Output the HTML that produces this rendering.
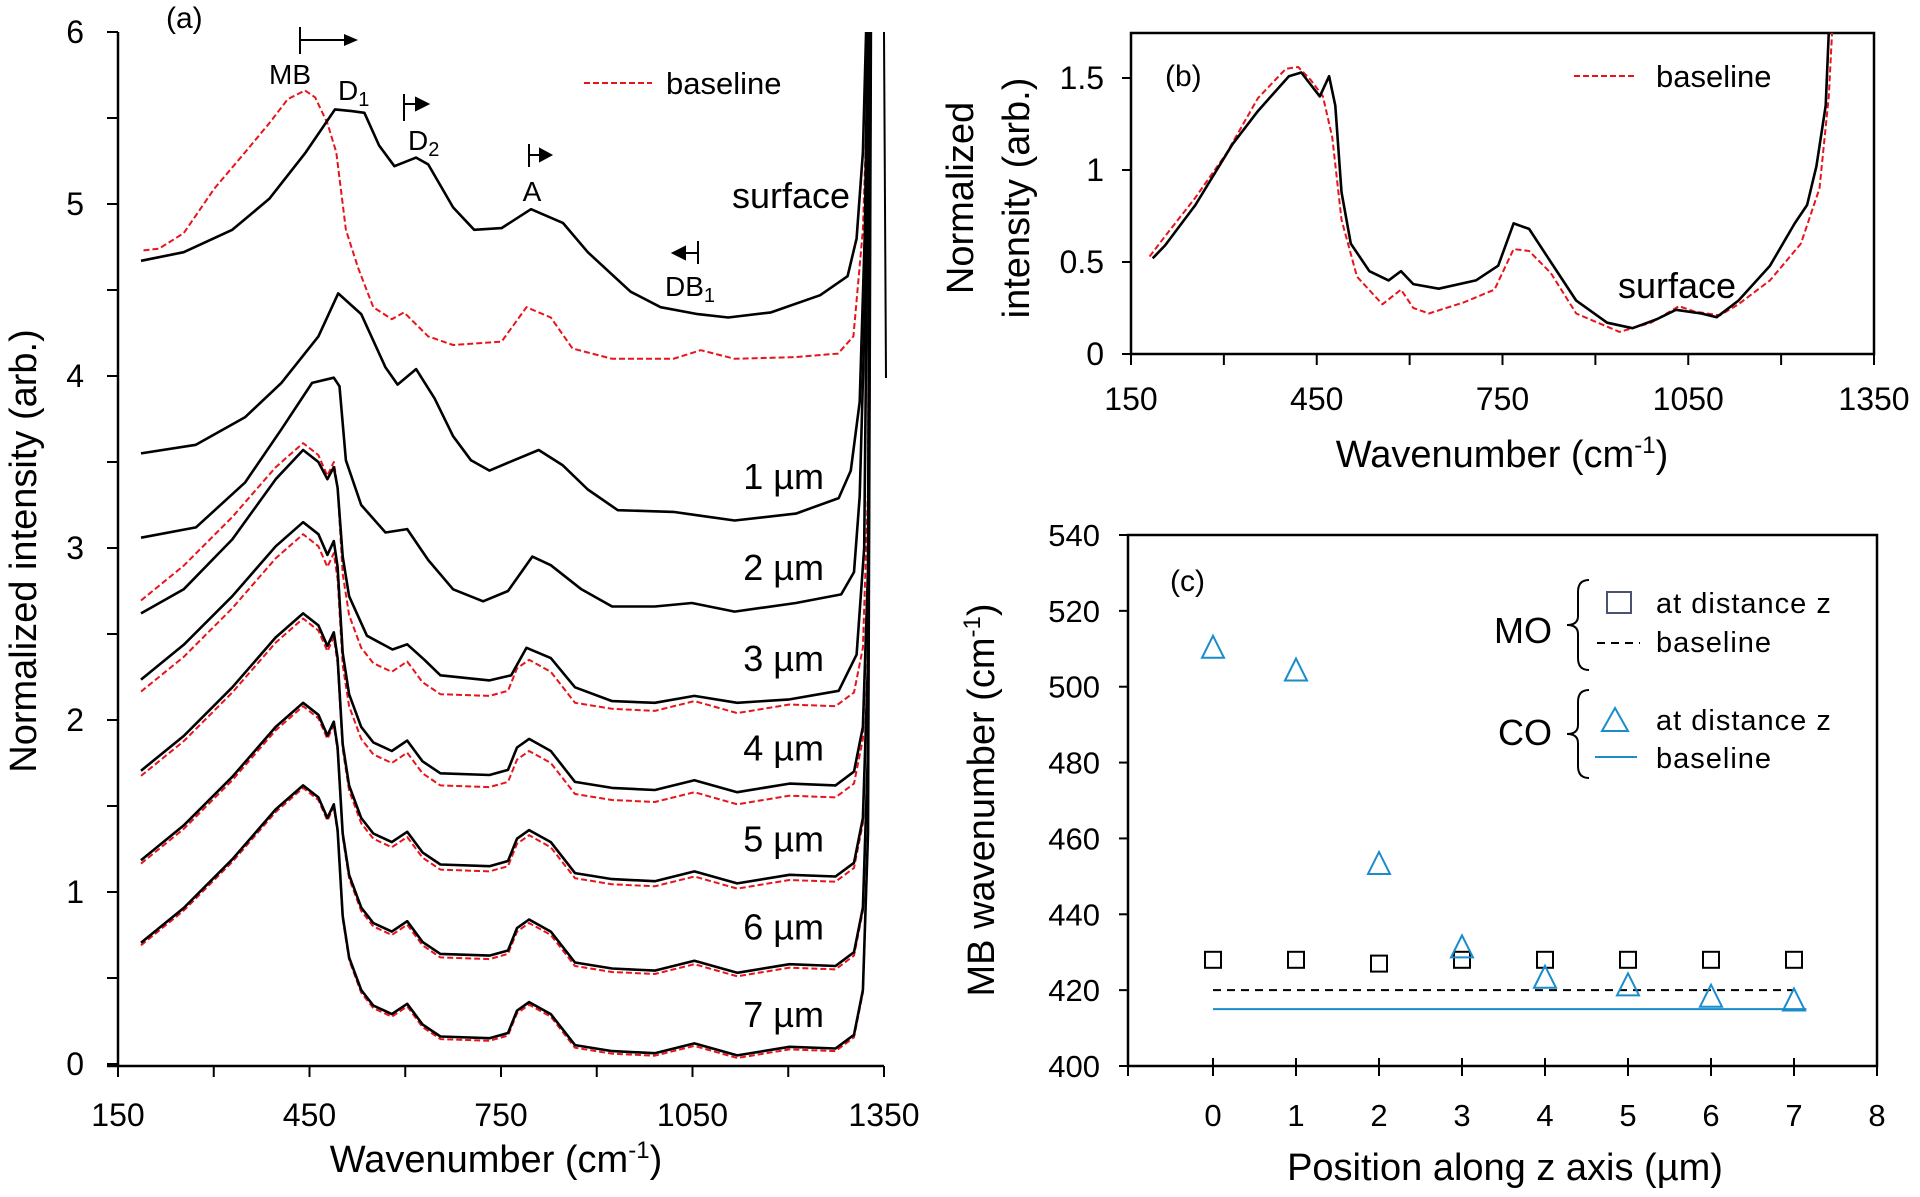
<!DOCTYPE html>
<html><head><meta charset="utf-8"><style>
html,body{margin:0;padding:0;background:#fff}
svg text{font-family:"Liberation Sans",sans-serif;fill:#000}
</style></head><body>
<svg id="fig" width="1920" height="1192" viewBox="0 0 1920 1192" xmlns="http://www.w3.org/2000/svg">
<defs>
<clipPath id="clipA"><rect x="100" y="32" width="800" height="1040"/></clipPath>
<clipPath id="clipB"><rect x="1131" y="33" width="743" height="330"/></clipPath>
</defs>
<g id="panelA"></g>
<g id="panelB"></g>
<g id="panelC"></g>
</svg>
<script>
// ---------- Panel (a) data ----------
const surfaceWn = [186,253,329,387,444,490,516,536,559,583,617,636,675,708,751,797,847,886,953,1000,1058,1106,1173,1250,1293,1307,1317,1322,1326];
const surfaceVal = [4.67,4.72,4.85,5.03,5.30,5.55,5.54,5.53,5.34,5.22,5.27,5.23,4.98,4.85,4.86,4.97,4.89,4.72,4.49,4.40,4.36,4.34,4.37,4.47,4.58,4.80,5.30,6.0,6.5];
const surfaceBaseWn = [190,214,253,301,349,387,416,443,459,478,492,507,526,550,579,598,636,675,751,790,828,862,924,1020,1063,1116,1212,1278,1302,1317,1325];
const surfaceBaseVal = [4.73,4.74,4.83,5.09,5.30,5.47,5.61,5.66,5.62,5.47,5.30,4.85,4.63,4.40,4.33,4.37,4.23,4.18,4.20,4.40,4.34,4.16,4.10,4.10,4.15,4.10,4.11,4.13,4.23,4.85,5.74];
const um1Wn = [186,272,349,406,464,495,531,569,588,617,646,675,703,732,770,809,847,886,933,1020,1058,1116,1212,1279,1298,1312,1320,1326];
const um1Val = [3.55,3.60,3.76,3.96,4.23,4.48,4.36,4.05,3.95,4.04,3.87,3.65,3.51,3.45,3.51,3.57,3.48,3.34,3.22,3.21,3.19,3.16,3.20,3.29,3.45,3.85,4.85,6.5];
const um2Wn = [186,272,349,406,454,488,497,507,531,569,603,636,675,722,761,799,828,876,924,991,1049,1116,1212,1283,1303,1312,1320,1327];
const um2Val = [3.06,3.12,3.38,3.69,3.96,3.99,3.94,3.51,3.25,3.09,3.11,2.93,2.76,2.69,2.75,2.95,2.90,2.76,2.66,2.66,2.68,2.63,2.68,2.73,2.86,3.30,4.40,6.5];
const um3Wn = [186,253,329,397,440,464,478,488,494,502,512,540,580,603,630,655,732,766,790,828,866,924,991,1053,1120,1202,1279,1307,1319,1328];
const um3Val = [2.62,2.76,3.05,3.40,3.57,3.50,3.40,3.47,3.35,2.95,2.72,2.49,2.41,2.44,2.35,2.26,2.23,2.26,2.42,2.36,2.19,2.11,2.10,2.14,2.10,2.12,2.17,2.38,3.0,6.5];
const deepWn = [186,253,329,397,440,464,478,488,494,502,512,531,550,579,603,627,655,732,761,775,794,828,866,924,991,1053,1120,1202,1274,1303,1317,1325,1330];
const deepVal = [0.705,0.907,1.19,1.48,1.62,1.55,1.43,1.51,1.36,0.86,0.62,0.43,0.34,0.29,0.35,0.23,0.16,0.15,0.18,0.31,0.36,0.29,0.11,0.075,0.063,0.12,0.05,0.10,0.09,0.17,0.43,1.34,6.5];
const deepBlackLabels = ['4um','5um','6um','7um'];
const deepBlackOffsets = [1.53,1.0,0.48,0];
const deepRedLabels = ['3um','4um','5um','6um','7um'];
const deepRedOffsets = [1.99,1.46,0.97,0.46,-0.015];
const depthLabels = ['1 µm','2 µm','3 µm','4 µm','5 µm','6 µm','7 µm'];
const depthLabelVals = [3.42,2.89,2.36,1.84,1.31,0.80,0.29];
const aXTicks = [150,450,750,1050,1350];
const aYTicks = [0,1,2,3,4,5,6];

// ---------- Panel (b) data ----------
const bBlackWn = [185,205,254,314,355,405,425,455,470,480,490,505,535,566,586,606,647,707,743,768,793,828,869,919,960,1000,1030,1071,1096,1131,1182,1222,1242,1257,1272,1277,1279];
const bBlackVal = [0.52,0.59,0.81,1.14,1.32,1.51,1.53,1.40,1.51,1.35,0.88,0.60,0.45,0.40,0.45,0.38,0.355,0.40,0.48,0.71,0.68,0.50,0.29,0.17,0.14,0.19,0.24,0.22,0.20,0.29,0.48,0.71,0.81,1.02,1.35,1.75,2.0];
const bRedWn = [180,205,254,304,355,400,420,440,460,475,490,515,556,586,606,631,687,737,768,793,828,869,939,990,1035,1061,1101,1131,1182,1232,1262,1277,1282,1284];
const bRedVal = [0.53,0.64,0.85,1.09,1.39,1.55,1.56,1.49,1.40,1.18,0.73,0.42,0.27,0.35,0.25,0.22,0.28,0.35,0.57,0.56,0.44,0.22,0.12,0.17,0.26,0.23,0.21,0.27,0.40,0.60,0.90,1.40,1.73,2.0];
const bXTicks = [150,450,750,1050,1350];
const bYTicks = [0,0.5,1,1.5];
const bYLabels = ['0','0.5','1','1.5'];

// ---------- Panel (c) data ----------
const cPositions = [0,1,2,3,4,5,6,7];
const coValues = [510,504,453,431,423,421,418,417];
const moValues = [428,428,427,428,428,428,428,428];
const moBaseline = 420;
const coBaseline = 415;
const cXTicks = [0,1,2,3,4,5,6,7,8];
const cYTicks = [400,420,440,460,480,500,520,540];

const NS = 'http://www.w3.org/2000/svg';
function mk(tag, parent, attrs){
  const e = document.createElementNS(NS, tag);
  for (const k in attrs) e.setAttribute(k, attrs[k]);
  parent.appendChild(e); return e;
}
function txt(parent, x, y, s, size, anchor, extra){
  const t = mk('text', parent, Object.assign({x:x, y:y, 'font-size':size, 'text-anchor':anchor||'start'}, extra||{}));
  t.textContent = s; return t;
}
function pathFrom(xs, ys, fx, fy, off){
  let d = '';
  for (let i=0;i<xs.length;i++){ d += (i?'L':'M') + fx(xs[i]).toFixed(1) + ' ' + fy(ys[i]+(off||0)).toFixed(1) + ' '; }
  return d;
}

// ===== Panel A =====
const gA = document.getElementById('panelA');
const xA = w => 118 + (w-150)*766/1200;
const yA = v => 1064 - v*172;
let e;
e = mk('line', gA, {x1:118,y1:32,x2:118,y2:1066,stroke:'#000','stroke-width':2.5});
 
e = mk('line', gA, {x1:107,y1:1066,x2:884,y2:1066,stroke:'#000','stroke-width':2.5});
 
for (let v=0; v<=6; v+=0.5){
  e = mk('line', gA, {x1:107,y1:yA(v),x2:118,y2:yA(v),stroke:'#000','stroke-width':2});
   
}
for (const t of aYTicks){
  e = txt(gA, 84, yA(t)+11, String(t), 32, 'end');
   
}
for (let w=150; w<=1350; w+=150){
  e = mk('line', gA, {x1:xA(w),y1:1066,x2:xA(w),y2:1077,stroke:'#000','stroke-width':2});
   
}
for (const t of aXTicks){
  e = txt(gA, xA(t), 1126, String(t), 32, 'middle');
   
}
e = txt(gA, 496, 1172, 'Wavenumber (cm', 38, 'middle');
 
e.innerHTML = 'Wavenumber (cm<tspan dy="-14" font-size="24">-1</tspan><tspan dy="14">)</tspan>';
e = txt(gA, 0, 0, 'Normalized intensity (arb.)', 38, 'middle', {transform:'translate(36,551) rotate(-90)'});
 

const curvesA = mk('g', gA, {'clip-path':'url(#clipA)'});
function addCurve(parent, d, red, name){
  const p = mk('path', parent, {d:d, fill:'none', stroke: red?'#e8141c':'#000', 'stroke-width': red?2:2.6, 'stroke-dasharray': red?'6 3':'none', 'stroke-linejoin':'round'});
  
  
}
for (let i=0;i<deepRedOffsets.length;i++) addCurve(curvesA, pathFrom(deepWn, deepVal, xA, yA, deepRedOffsets[i]), true, 'baseline-'+deepRedLabels[i]);
addCurve(curvesA, pathFrom(surfaceBaseWn, surfaceBaseVal, xA, yA), true, 'baseline-surface');
addCurve(curvesA, pathFrom(surfaceWn, surfaceVal, xA, yA), false, 'spectrum-surface');
addCurve(curvesA, pathFrom(um1Wn, um1Val, xA, yA), false, 'spectrum-1um');
addCurve(curvesA, pathFrom(um2Wn, um2Val, xA, yA), false, 'spectrum-2um');
addCurve(curvesA, pathFrom(um3Wn, um3Val, xA, yA), false, 'spectrum-3um');
for (let i=0;i<deepBlackOffsets.length;i++) addCurve(curvesA, pathFrom(deepWn, deepVal, xA, yA, deepBlackOffsets[i]), false, 'spectrum-'+deepBlackLabels[i]);
e = mk('line', gA, {x1:884,y1:32,x2:886,y2:378,stroke:'#000','stroke-width':2});
 

for (let i=0;i<depthLabels.length;i++){
  e = txt(gA, 824, yA(depthLabelVals[i])+13, depthLabels[i], 36, 'end');
   
}
e = txt(gA, 850, 208, 'surface', 36, 'end');
 
e = txt(gA, 166, 28, '(a)', 30, 'start');
 
e = mk('path', gA, {d:'M300 27 L300 54 M300 40 L346 40', stroke:'#000','stroke-width':2, fill:'none'});
 
e = mk('path', gA, {d:'M358 40 L344 34 L344 46 Z', fill:'#000'});
 
e = txt(gA, 290, 84, 'MB', 28, 'middle');
 
e = txt(gA, 338, 100, 'D', 28, 'start'); e.innerHTML = 'D<tspan dy="6" font-size="20">1</tspan>';
 
e = mk('path', gA, {d:'M404 94 L404 121 M404 104 L416 104 M428 104 L416 98 L416 110 Z', stroke:'#000','stroke-width':2, fill:'#000'});
 
e = txt(gA, 408, 150, 'D', 28, 'start'); e.innerHTML = 'D<tspan dy="6" font-size="20">2</tspan>';
 
e = mk('path', gA, {d:'M529 144 L529 167 M529 155 L540 155 M551 155 L540 149 L540 161 Z', stroke:'#000','stroke-width':2, fill:'#000'});
 
e = txt(gA, 532, 201, 'A', 28, 'middle');
 
e = mk('path', gA, {d:'M698 241 L698 264 M698 253 L685 253 M673 253 L685 247 L685 259 Z', stroke:'#000','stroke-width':2, fill:'#000'});
 
e = txt(gA, 665, 296, 'DB', 28, 'start'); e.innerHTML = 'DB<tspan dy="6" font-size="20">1</tspan>';
 
e = mk('line', gA, {x1:584,y1:83,x2:652,y2:83,stroke:'#e8141c','stroke-width':2,'stroke-dasharray':'6 3'});
 
e = txt(gA, 666, 94, 'baseline', 31, 'start');
 

// ===== Panel B =====
const gB = document.getElementById('panelB');
const xB = w => 1131 + (w-150)*743/1200;
const yB = v => 354 - v*184;
e = mk('rect', gB, {x:1131,y:33,width:743,height:321,fill:'none',stroke:'#000','stroke-width':2.5});
 
for (const t of bYTicks){
  e = mk('line', gB, {x1:1122,y1:yB(t),x2:1131,y2:yB(t),stroke:'#000','stroke-width':2});
   
}
for (let i=0;i<bYTicks.length;i++){
  e = txt(gB, 1104, yB(bYTicks[i])+11, bYLabels[i], 32, 'end');
   
}
for (let w=150; w<=1350; w+=150){
  e = mk('line', gB, {x1:xB(w),y1:354,x2:xB(w),y2:365,stroke:'#000','stroke-width':2});
   
}
for (const t of bXTicks){
  e = txt(gB, xB(t), 410, String(t), 32, 'middle');
   
}
e = txt(gB, 1502, 467, '', 38, 'middle');
e.innerHTML = 'Wavenumber (cm<tspan dy="-14" font-size="24">-1</tspan><tspan dy="14">)</tspan>';
 
e = txt(gB, 0, 0, 'Normalized', 38, 'middle', {transform:'translate(973,198) rotate(-90)'});
 
e = txt(gB, 0, 0, 'intensity (arb.)', 38, 'middle', {transform:'translate(1029,198) rotate(-90)'});
 
const curvesB = mk('g', gB, {'clip-path':'url(#clipB)'});
addCurve(curvesB, pathFrom(bRedWn, bRedVal, xB, yB), true, 'b-baseline-curve');
addCurve(curvesB, pathFrom(bBlackWn, bBlackVal, xB, yB), false, 'b-surface-curve');
e = txt(gB, 1165, 86, '(b)', 30, 'start');
 
e = mk('line', gB, {x1:1574,y1:76,x2:1637,y2:76,stroke:'#e8141c','stroke-width':2,'stroke-dasharray':'6 3'});
 
e = txt(gB, 1656, 87, 'baseline', 31, 'start');
 
e = txt(gB, 1618, 298, 'surface', 36, 'start');
 

// ===== Panel C =====
const gC = document.getElementById('panelC');
const xC = p => 1213 + p*83;
const yC = v => 1066 - (v-400)*(531/140);
e = mk('rect', gC, {x:1128,y:535,width:749,height:531,fill:'none',stroke:'#000','stroke-width':2.5});
 
for (const t of cYTicks){
  e = mk('line', gC, {x1:1119,y1:yC(t),x2:1128,y2:yC(t),stroke:'#000','stroke-width':2});
   
  e = txt(gC, 1100, yC(t)+11, String(t), 31, 'end');
   
}
for (const t of cXTicks){
  e = mk('line', gC, {x1:xC(t),y1:1058,x2:xC(t),y2:1076,stroke:'#000','stroke-width':2});
   
  e = txt(gC, xC(t), 1126, String(t), 31, 'middle');
   
}
e = mk('line', gC, {x1:1128,y1:1066,x2:1128,y2:1076,stroke:'#000','stroke-width':2});
 
e = txt(gC, 1505, 1180, 'Position along z axis (µm)', 38, 'middle');
 
e = txt(gC, 0, 0, '', 38, 'middle', {transform:'translate(994,800) rotate(-90)'});
e.innerHTML = 'MB wavenumber (cm<tspan dy="-14" font-size="24">-1</tspan><tspan dy="14">)</tspan>';
 
e = mk('line', gC, {x1:xC(0),y1:yC(moBaseline),x2:xC(7),y2:yC(moBaseline),stroke:'#000','stroke-width':2,'stroke-dasharray':'8 6'});
 
e = mk('line', gC, {x1:xC(0),y1:yC(coBaseline),x2:xC(7.15),y2:yC(coBaseline),stroke:'#1a8ccc','stroke-width':2});
 
for (let i=0;i<cPositions.length;i++){
  const x = xC(cPositions[i]), y = yC(moValues[i]);
  e = mk('rect', gC, {x:x-8,y:y-8,width:16,height:16,fill:'none',stroke:'#000','stroke-width':2});
   
}
for (let i=0;i<cPositions.length;i++){
  const x = xC(cPositions[i]), y = yC(coValues[i]);
  e = mk('path', gC, {d:`M${x} ${y-13} L${x+11} ${y+9} L${x-11} ${y+9} Z`,fill:'none',stroke:'#1a8ccc','stroke-width':2});
   
}
e = txt(gC, 1170, 591, '(c)', 30, 'start');
 
e = txt(gC, 1552, 643, 'MO', 36, 'end');
 
e = txt(gC, 1552, 745, 'CO', 36, 'end');
 
e = mk('path', gC, {d:'M1589 580 Q1578 580 1578 592 L1578 616 Q1578 625 1567 625 Q1578 625 1578 634 L1578 658 Q1578 670 1589 670',fill:'none',stroke:'#000','stroke-width':2});
 
e = mk('path', gC, {d:'M1589 690 Q1578 690 1578 702 L1578 725 Q1578 734 1567 734 Q1578 734 1578 743 L1578 766 Q1578 778 1589 778',fill:'none',stroke:'#000','stroke-width':2});
 
e = mk('rect', gC, {x:1607,y:592,width:24,height:21,fill:'none',stroke:'#4a5270','stroke-width':2});
 
e = mk('line', gC, {x1:1597,y1:643,x2:1640,y2:643,stroke:'#000','stroke-width':2,'stroke-dasharray':'8 6'});
 
e = mk('path', gC, {d:'M1615 708 L1628 731 L1602 731 Z',fill:'none',stroke:'#1a8ccc','stroke-width':2});
 
e = mk('line', gC, {x1:1595,y1:757,x2:1637,y2:757,stroke:'#1a8ccc','stroke-width':2});
 
e = txt(gC, 1656, 613, 'at distance z', 29, 'start', {'letter-spacing':'1'});
 
e = txt(gC, 1656, 652, 'baseline', 29, 'start', {'letter-spacing':'1'});
 
e = txt(gC, 1656, 730, 'at distance z', 29, 'start', {'letter-spacing':'1'});
 
e = txt(gC, 1656, 768, 'baseline', 29, 'start', {'letter-spacing':'1'});
 
</script>
</body></html>
